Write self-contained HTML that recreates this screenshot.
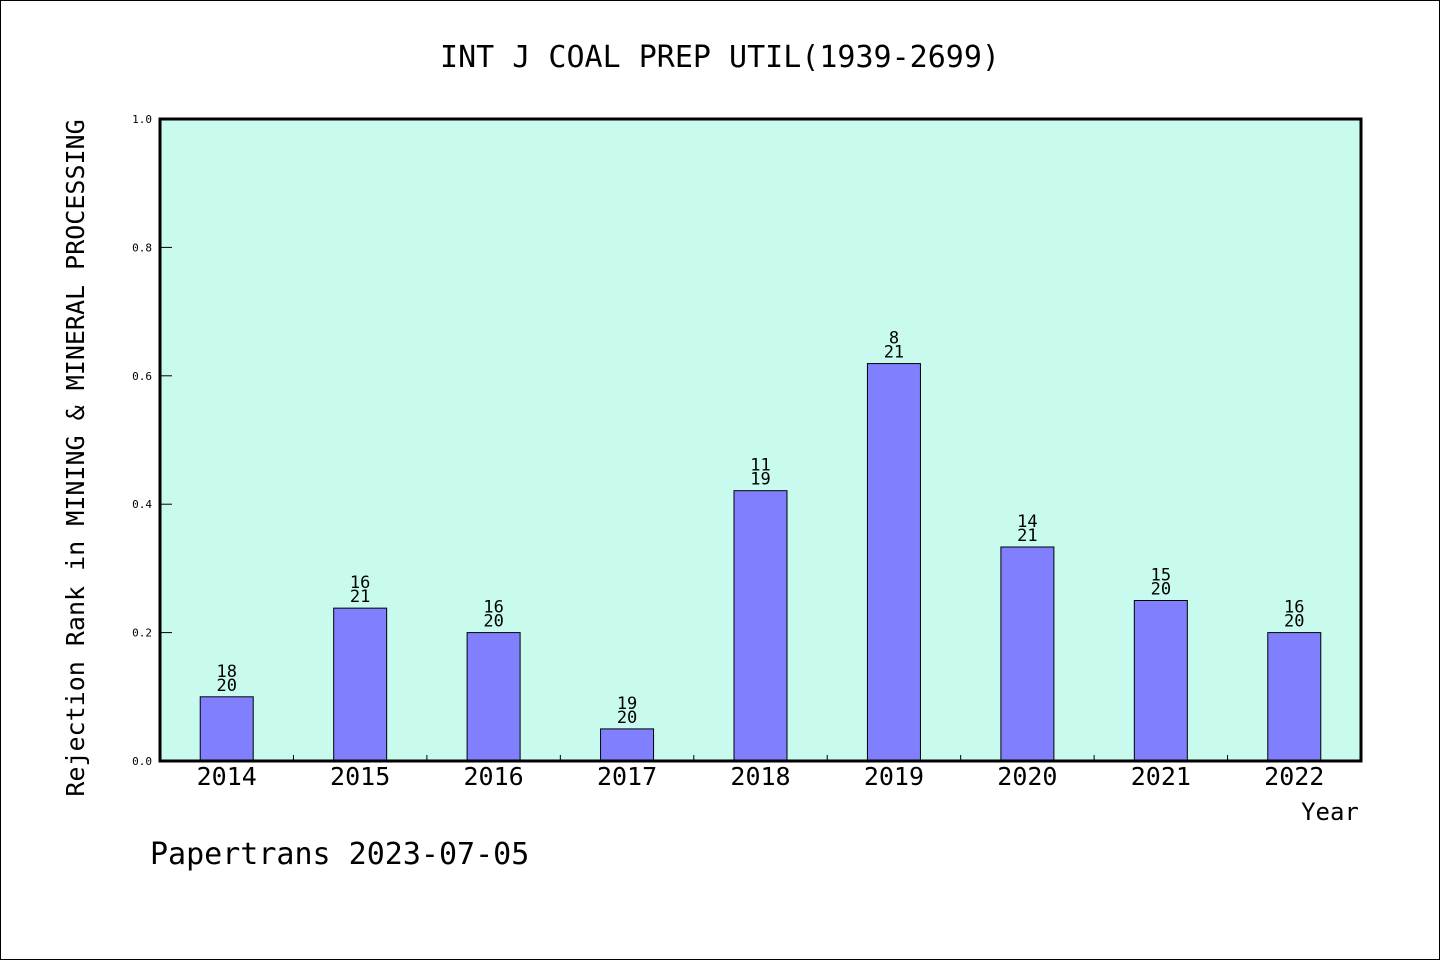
<!DOCTYPE html>
<html><head><meta charset="utf-8"><style>
html,body{margin:0;padding:0;background:#fff}
svg{display:block}
text{font-family:"WenQuanYi Zen Hei","DejaVu Sans Mono",monospace;fill:#000}
</style></head><body>
<svg id="chart" width="1440" height="960">
<rect x="0.5" y="0.5" width="1439" height="959" fill="#fff" stroke="#000"/>
<text x="720" y="67" font-size="30" text-anchor="middle">INT J COAL PREP UTIL(1939-2699)</text>
<rect x="160" y="119" width="1201" height="642" fill="#c8fbee"/>
<g id="bars"></g>
<rect x="160" y="119" width="1201" height="642" fill="none" stroke="#000" stroke-width="3"/>
<g id="axes"></g>
<text x="1330" y="820" font-size="24" text-anchor="middle">Year</text>
<text transform="translate(84,458) rotate(-90)" font-size="25" text-anchor="middle">Rejection Rank in MINING &amp; MINERAL PROCESSING</text>
<text x="150" y="864" font-size="30">Papertrans 2023-07-05</text>
</svg>
<script>
const categories=["2014","2015","2016","2017","2018","2019","2020","2021","2022"];
const ranks=[18,16,16,19,11,8,14,15,16];
const totals=[20,21,20,20,19,21,21,20,20];
const yTicks=[0,0.2,0.4,0.6,0.8,1.0];
const yTickLabels=["0.0","0.2","0.4","0.6","0.8","1.0"];
const NS="http://www.w3.org/2000/svg";
const X0=160,X1=1361,Y0=761,Y1=119;
const step=(X1-X0)/categories.length;
const xc=i=>X0+step*(i+0.5);
const y=v=>Y0-(Y0-Y1)*v;
function mk(tag,attrs,parent,txt){const e=document.createElementNS(NS,tag);for(const k in attrs)e.setAttribute(k,attrs[k]);if(txt!==undefined)e.textContent=txt;parent.appendChild(e);return e;}
const bars=document.getElementById('bars'),axes=document.getElementById('axes');
categories.forEach((c,i)=>{
  const v=(totals[i]-ranks[i])/totals[i];
  const b=mk('rect',{x:xc(i)-26.5,y:y(v),width:53,height:Y0-y(v),fill:'#8080ff',stroke:'#000','stroke-width':1},bars);
  
  
  const t1=mk('text',{x:xc(i),y:y(v)-20,'font-size':17,'text-anchor':'middle'},bars,String(ranks[i]));
  
  
  const t2=mk('text',{x:xc(i),y:y(v)-6,'font-size':17,'text-anchor':'middle'},bars,String(totals[i]));
  
  
  const xl=mk('text',{x:xc(i),y:785,'font-size':25,'text-anchor':'middle'},axes,c);
  
  
  if(i>0){const tk=mk('line',{x1:X0+step*i,x2:X0+step*i,y1:Y0,y2:Y0-6,stroke:'#000'},axes);
  
  }
});
yTicks.forEach((v,i)=>{
  const tk=mk('line',{x1:X0,x2:X0+12,y1:y(v),y2:y(v),stroke:'#000'},axes);
  
  
  const l=mk('text',{x:152,y:y(v)+4,'font-size':11,'text-anchor':'end'},axes,yTickLabels[i]);
  
  
});
</script>
</body></html>
